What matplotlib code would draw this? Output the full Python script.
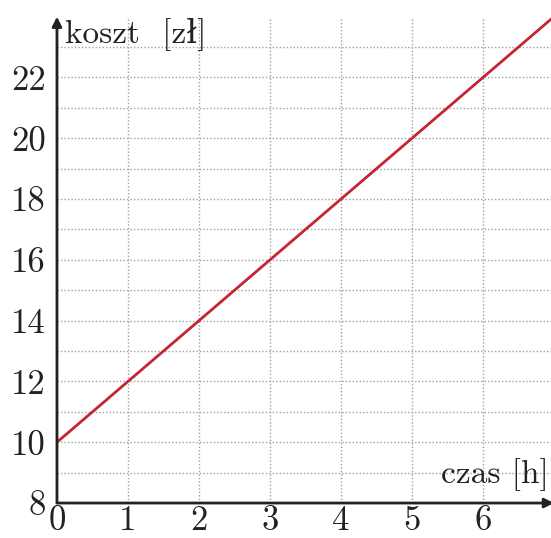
import matplotlib
matplotlib.use("Agg")
import matplotlib.pyplot as plt

# data
hours = [0, 1, 2, 3, 4, 5, 6, 7]
cost = [10, 12, 14, 16, 18, 20, 22, 24]
y_ticks = [8, 10, 12, 14, 16, 18, 20, 22]
x_ticks = [0, 1, 2, 3, 4, 5, 6]
x_label = "czas [h]"
y_label = "koszt  [zł]"

fam = ["cmr10", "DejaVu Serif"]
plt.rcParams["font.family"] = fam

fig = plt.figure(figsize=(5.51, 5.38), dpi=100)
ax = fig.add_axes([0.1034, 0.065, 0.902, 0.904])
ax.set_xlim(0, 7)
ax.set_ylim(8, 24)

for s in ax.spines.values():
    s.set_visible(False)

ax.set_xticks(x_ticks)
ax.set_xticks([7], minor=True)
ax.set_yticks(y_ticks)
ax.set_yticks(list(range(9, 24, 2)), minor=True)
ax.set_xticklabels([str(v) for v in x_ticks], fontsize=25)
ax.set_yticklabels([str(v) for v in y_ticks], fontsize=25)
ax.tick_params(which="both", length=0)
ax.tick_params(axis="y", pad=8)
ax.tick_params(axis="x", pad=2)
ax.grid(True, which="both", color="#a0a0a0", linestyle=(0, (1, 1.5)), linewidth=1.0)
ax.set_axisbelow(True)

ax.plot(hours, cost, color="#c42536", linewidth=2.0, zorder=3, solid_capstyle="butt")

# axis arrows
ax.annotate("", xy=(1.0, 0), xytext=(0, 0), xycoords="axes fraction",
            arrowprops=dict(arrowstyle="-|>", color="#222222", lw=2, mutation_scale=14,
                            shrinkA=0, shrinkB=0), annotation_clip=False)
ax.annotate("", xy=(0, 1.0), xytext=(0, 0), xycoords="axes fraction",
            arrowprops=dict(arrowstyle="-|>", color="#222222", lw=2, mutation_scale=14,
                            shrinkA=0, shrinkB=0), annotation_clip=False)

ax.text(0.11, 23.16, y_label, fontsize=24, ha="left", va="baseline", color="#222222",
        family=fam)
ax.text(6.92, 8.66, x_label, fontsize=24, ha="right", va="baseline", color="#222222",
        family=fam)

for lbl in ax.get_xticklabels() + ax.get_yticklabels():
    lbl.set_color("#222222")

fig.savefig("out.png", dpi=100)
